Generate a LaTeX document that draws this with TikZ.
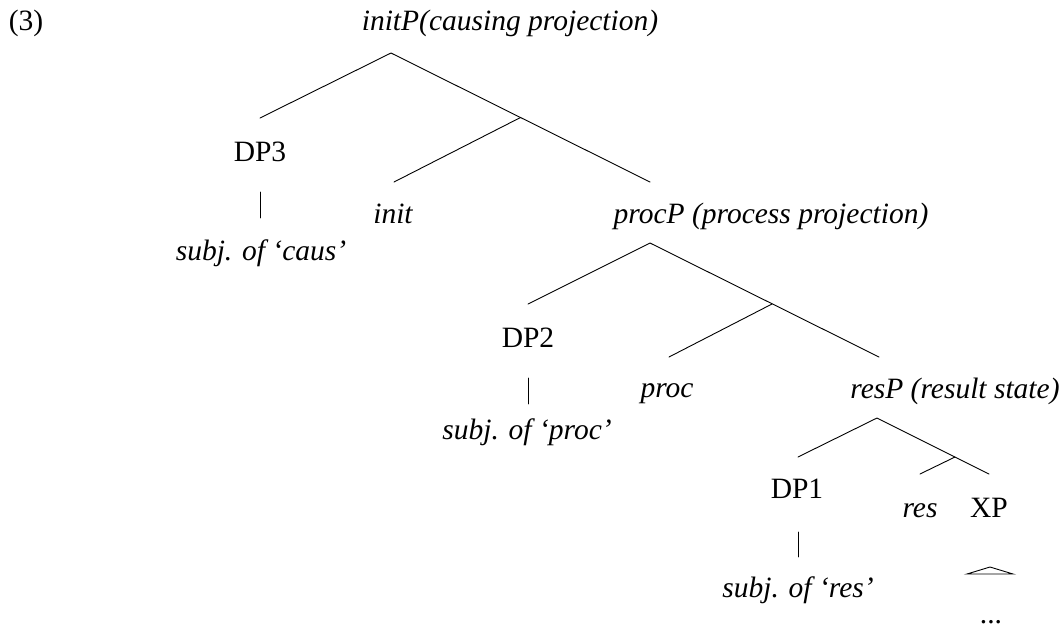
\documentclass[tikz,border=0pt]{standalone}
\usepackage{fontspec}
\setmainfont{Liberation Serif}
\begin{document}
\begin{tikzpicture}[x=1pt,y=-1pt,
  cat/.style={anchor=base,inner sep=0pt,font=\fontsize{29.5}{34}\selectfont},
  it/.style={anchor=base,inner sep=0pt,font=\fontsize{29.5}{34}\selectfont\itshape},
  branch/.style={line width=0.9pt,line cap=round,line join=miter}]
\useasboundingbox (0,0) rectangle (1061,630);

% labels
\node[cat] (ex) at (26,30) {(3)};
\node[it] (initP) at (510,30) {initP(causing projection)};
\node[cat] (dp3) at (260,161) {DP3};
\node[it] (init) at (393,223) {init};
\node[it] (procP) at (771,223) {procP (process projection)};
\node[it] (subjcaus) at (261,260) {subj. of ‘caus’};
\node[cat] (dp2) at (528,347) {DP2};
\node[it] (proc) at (667,397) {proc};
\node[it] (resP) at (955,398) {resP (result state)};
\node[it] (subjproc) at (527,439) {subj. of ‘proc’};
\node[cat] (dp1) at (797,498) {DP1};
\node[it] (res) at (920,517) {res};
\node[cat] (xp) at (989,517) {XP};
\node[it] (subjres) at (798,597) {subj. of ‘res’};
\node[cat] (dots) at (991,623) {...};

% branch points of the initP layer
\coordinate (a0) at (391,53);
\coordinate (a0l) at (260,118);
\coordinate (a0r) at (650,182);
\coordinate (j0) at (520.5,117.5);
\coordinate (j0e) at (394,182);
\coordinate (v3a) at (260,192);
\coordinate (v3b) at (260,218);

% branch points of the procP layer
\coordinate (a1) at (650,243);
\coordinate (a1l) at (528,304);
\coordinate (a1r) at (879,357);
\coordinate (j1) at (772,304);
\coordinate (j1e) at (669,357);
\coordinate (v2a) at (528,378);
\coordinate (v2b) at (528,404);

% branch points of the resP layer
\coordinate (a2) at (877,418);
\coordinate (a2l) at (798,457);
\coordinate (a2r) at (989,474);
\coordinate (j2) at (955,457);
\coordinate (j2e) at (920,474);
\coordinate (v1a) at (798,532);
\coordinate (v1b) at (798,557);

% XP triangle
\coordinate (t0) at (990,567);
\coordinate (t1) at (967,574);
\coordinate (t2) at (1013,574);

\draw[branch] (a0l) -- (a0) -- (a0r);
\draw[branch] (j0) -- (j0e);
\draw[branch] (v3a) -- (v3b);

\draw[branch] (a1l) -- (a1) -- (a1r);
\draw[branch] (j1) -- (j1e);
\draw[branch] (v2a) -- (v2b);

\draw[branch] (a2l) -- (a2) -- (a2r);
\draw[branch] (j2) -- (j2e);
\draw[branch] (v1a) -- (v1b);

\draw[branch] (t1) -- (t0) -- (t2) -- cycle;
\end{tikzpicture}
\end{document}
